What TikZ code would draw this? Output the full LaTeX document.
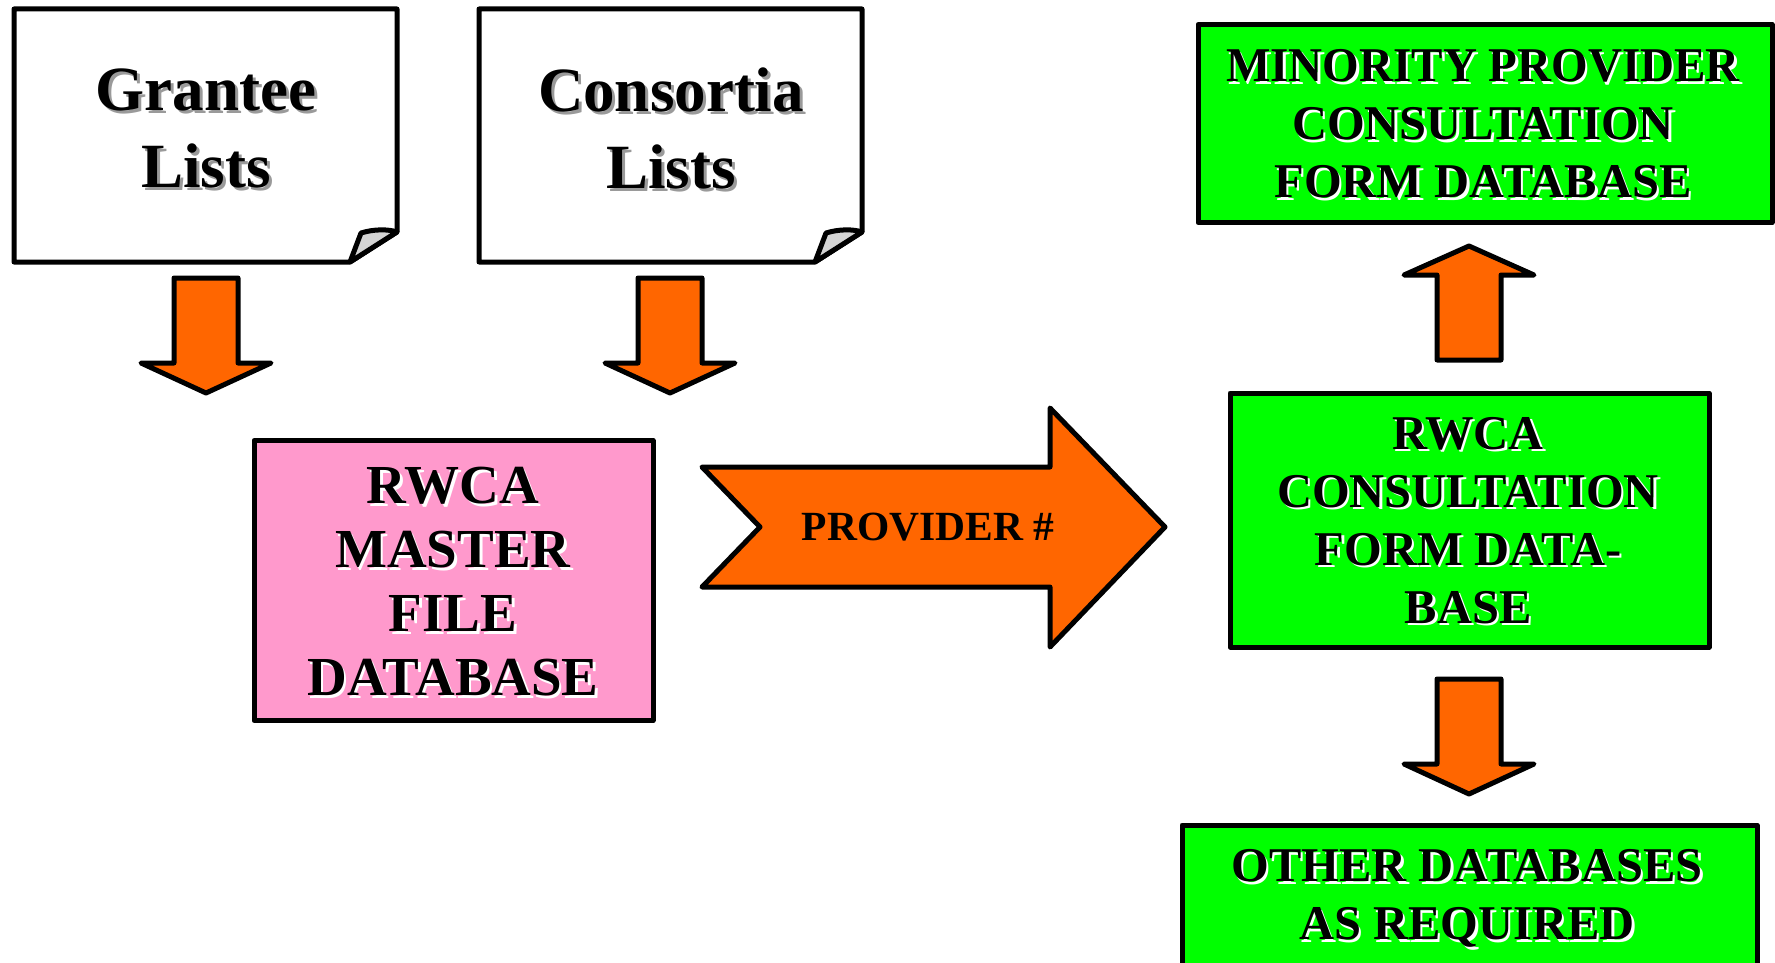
\documentclass[tikz,border=0pt]{standalone}
\usepackage{fontspec}
\setmainfont{Liberation Serif}
\definecolor{orng}{HTML}{FF6600}
\definecolor{pnk}{HTML}{FF99CC}
\definecolor{grn}{HTML}{00FF00}
\definecolor{foldgray}{HTML}{D4D4D4}
\definecolor{shgray}{HTML}{9A9A9A}
\newcommand{\shd}[3]{\makebox[0pt][l]{\kern#3\raisebox{-#3}{\color{#1}#2}}#2}
\newcommand{\ws}[1]{\shd{white}{#1}{2.5pt}}
\newcommand{\gs}[1]{\shd{shgray}{#1}{3pt}}
\tikzset{
  outl/.style={draw=black, line width=5pt, line join=round},
  boxnode/.style={outl, inner sep=0pt},
  blockarrow/.style={outl, fill=orng},
  pagetext/.style={align=center, font=\fontsize{63}{77}\selectfont\bfseries},
  pinktext/.style={align=center, font=\fontsize{55}{64}\selectfont\bfseries},
  grntext/.style={align=center, font=\fontsize{48.5}{58}\selectfont\bfseries},
}
\newcommand{\downarrowshape}[2]{% center x, top y
  \draw[blockarrow] (#1-32,#2) -- (#1+32,#2) -- (#1+32,#2+85) -- (#1+65,#2+85)
    -- (#1,#2+115) -- (#1-65,#2+85) -- (#1-32,#2+85) -- cycle;}
\newcommand{\uparrowshape}[2]{% center x, bottom y
  \draw[blockarrow] (#1-32,#2) -- (#1+32,#2) -- (#1+32,#2-85) -- (#1+65,#2-85)
    -- (#1,#2-114) -- (#1-65,#2-85) -- (#1-32,#2-85) -- cycle;}
\begin{document}
\begin{tikzpicture}[x=1pt,y=-1pt]
\useasboundingbox (0,0) rectangle (1775,963);
\fill[white] (0,0) rectangle (1775,963);

% Grantee page
\draw[outl, fill=white] (14,9) -- (397,9) -- (397,232) -- (350,262) -- (14,262) -- cycle;
\draw[outl, fill=foldgray] (350,262) -- (361,233) .. controls (374,229) and (388,229) .. (397,232) -- cycle;
\node[pagetext] (grantee) at (206,129.5) {\gs{Grantee}\\\gs{Lists}};

% Consortia page
\draw[outl, fill=white] (479,9) -- (862,9) -- (862,232) -- (815,262) -- (479,262) -- cycle;
\draw[outl, fill=foldgray] (815,262) -- (826,233) .. controls (839,229) and (853,229) .. (862,232) -- cycle;
\node[pagetext] (consortia) at (671,129.5) {\gs{Consortia}\\\gs{Lists}};

% down arrows
\downarrowshape{206}{278}
\downarrowshape{670}{278}

% pink master file
\node[boxnode, fill=pnk, minimum width=399pt, minimum height=280pt] (master) at (453.5,580.5) {};
\node[pinktext] (mastertext) at (453,583) {\ws{RWCA}\\\ws{MASTER}\\\ws{FILE}\\\ws{DATABASE}};

% provider arrow
\draw[blockarrow] (702,467) -- (760,527) -- (702,587) -- (1050,587) -- (1050,647)
  -- (1165,527) -- (1050,408) -- (1050,467) -- cycle;
\node[font=\fontsize{41.5}{48}\selectfont\bfseries] (provider) at (928,527) {PROVIDER \#};

% top green
\node[boxnode, fill=grn, minimum width=574pt, minimum height=198pt] (minority) at (1485,123.5) {};
\node[grntext] (minoritytext) at (1483,125) {\scalebox{0.97}[1]{\ws{MINORITY PROVIDER}}\\\ws{CONSULTATION}\\\ws{FORM DATABASE}};

% up arrow
\uparrowshape{1469}{360}

% middle green
\node[boxnode, fill=grn, minimum width=479pt, minimum height=254pt] (consult) at (1469.5,520) {};
\node[grntext] (consulttext) at (1468,521.5) {\ws{RWCA}\\\ws{CONSULTATION}\\\ws{FORM DATA-}\\\ws{BASE}};

% down arrow right
\downarrowshape{1469}{679}

% bottom green
\node[boxnode, fill=grn, minimum width=575pt, minimum height=180pt] (other) at (1469.5,915) {};
\node[grntext] (othertext) at (1467,900) {\ws{OTHER DATABASES}\\\ws{AS REQUIRED}};
\end{tikzpicture}
\end{document}
